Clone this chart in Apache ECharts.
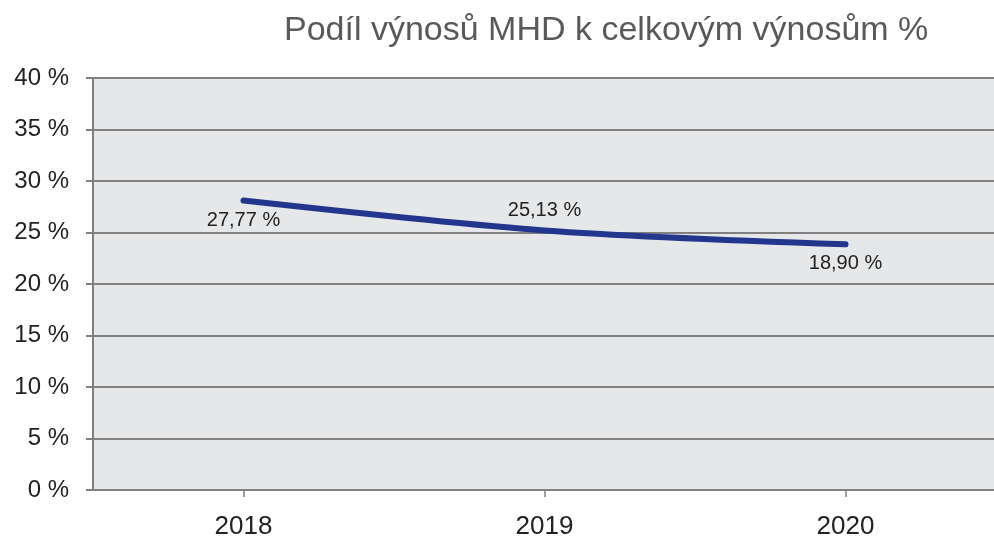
<!DOCTYPE html>
<html>
<head>
<meta charset="utf-8" />
<script src="https://cdn.jsdelivr.net/npm/echarts@6/dist/echarts.min.js"></script>
<title>Podíl výnosů MHD</title>
<style type="text/css">
* {margin:0; padding:0;}
body { background:#fff; }
#graf { width:994px; height:537px; }
</style>
</head>
<body>
<div id="graf"></div>
<script>
// data
var roky = ['2018', '2019', '2020'];
var hodnoty = [28.1, 25.2, 23.85];          // poloha čáry
var popisky = ['27,77 %', '25,13 %', '18,90 %']; // popisky tak, jak jsou v grafu
var polohyPopisku = ['bottom', 'top', 'bottom'];

var pismo = 'Liberation Sans';

var graf = echarts.init(document.getElementById('graf'));
graf.setOption({
	animation: false,
	title: {
		text: 'Podíl výnosů MHD k celkovým výnosům %',
		left: 279,
		top: 9,
		textStyle: {
			fontFamily: pismo,
			fontSize: 34,
			fontWeight: 'normal',
			color: '#595959'
		}
	},
	grid: {
		left: 93,
		right: -2,
		top: 78,
		bottom: 47,
		show: true,
		outerBoundsMode: 'none',
		containLabel: false,
		backgroundColor: '#e6e7e9',
		borderWidth: 0
	},
	xAxis: {
		type: 'category',
		data: roky,
		boundaryGap: true,
		axisLine: { lineStyle: { color: '#808080', width: 2 } },
		axisTick: { show: true, alignWithLabel: true, length: 7, lineStyle: { color: '#808080', width: 1.5 } },
		axisLabel: { fontFamily: pismo, fontSize: 26, color: '#222', margin: 24 }
	},
	yAxis: {
		type: 'value',
		min: 0,
		max: 40,
		interval: 5,
		axisLine: { show: true, lineStyle: { color: '#808080', width: 2 } },
		axisTick: { show: true, length: 7, lineStyle: { color: '#808080', width: 2 } },
		splitLine: { lineStyle: { color: '#808080', width: 2 } },
		axisLabel: {
			fontFamily: pismo,
			fontSize: 24,
			color: '#222',
			margin: 24,
			formatter: '{value} %'
		}
	},
	series: [{
		type: 'line',
		data: hodnoty.map(function (v, i) {
			return {
				value: v,
				label: { show: true, position: polohyPopisku[i] }
			};
		}),
		smooth: 0.3,
		symbol: 'circle',
		symbolSize: 1,
		showSymbol: true,
		itemStyle: { color: '#23368e' },
		lineStyle: { color: '#23368e', width: 6, cap: 'round' },
		label: {
			show: true,
			distance: 9,
			fontFamily: pismo,
			fontSize: 20,
			color: '#222',
			formatter: function (p) { return popisky[p.dataIndex]; }
		}
	}]
});
</script>
</body>
</html>
